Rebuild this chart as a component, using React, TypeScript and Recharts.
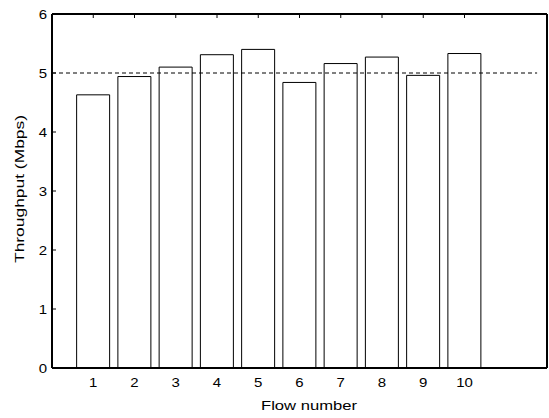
import { Bar, ComposedChart, ReferenceLine, XAxis, YAxis } from "recharts";

const FLOWS = [1, 2, 3, 4, 5, 6, 7, 8, 9, 10];
const THROUGHPUT = [4.63, 4.94, 5.1, 5.31, 5.4, 4.84, 5.16, 5.27, 4.96, 5.33];
const Y_TICKS = [0, 1, 2, 3, 4, 5, 6];
const TARGET = 5;

const data = FLOWS.map((f, i) => ({ flow: f, mbps: THROUGHPUT[i] }));

const FONT = "'Liberation Sans', Arial, sans-serif";

// MATLAB-ish ticks: pointing inward, labels slightly stretched
function BottomTick(p: any) {
  return (
    <text
      transform={`translate(${p.x},${p.y + 18.8}) scale(1.2,1)`}
      textAnchor="middle"
      fontSize={12.5}
      fontFamily={FONT}
      fill="#000"
    >
      {p.payload.value}
    </text>
  );
}

function LeftTick(p: any) {
  return (
    <g>
      <line x1={p.x} x2={p.x + 4} y1={p.y} y2={p.y} stroke="#000" />
      <text
        transform={`translate(${p.x - 5},${p.y + 4.5}) scale(1.2,1)`}
        textAnchor="end"
        fontSize={12.5}
        fontFamily={FONT}
        fill="#000"
      >
        {p.payload.value}
      </text>
    </g>
  );
}

function TopTick(p: any) {
  return <line x1={p.x} x2={p.x} y1={p.y} y2={p.y + 4} stroke="#000" />;
}

function RightTick(p: any) {
  return <line x1={p.x - 4} x2={p.x} y1={p.y} y2={p.y} stroke="#000" />;
}

export default function App() {
  return (
    <div style={{ position: "absolute", left: 0, top: 0, width: 549, height: 418, background: "#fff" }}>
      <ComposedChart width={549} height={418} data={data} margin={{ top: 13, right: 0, bottom: 0, left: 0 }}>
        <XAxis
          xAxisId="b"
          dataKey="flow"
          type="number"
          domain={[0, 12]}
          ticks={FLOWS}
          interval={0}
          height={50}
          tickSize={0}
          tickMargin={0}
          tickLine={false}
          tick={<BottomTick />}
          axisLine={{ stroke: "#000", strokeWidth: 2 }}
        />
        <XAxis
          xAxisId="t"
          dataKey="flow"
          type="number"
          orientation="top"
          domain={[0, 12]}
          ticks={FLOWS}
          interval={0}
          height={1}
          tickSize={0}
          tickMargin={0}
          tickLine={false}
          tick={<TopTick />}
          axisLine={{ stroke: "#000", strokeWidth: 2 }}
        />
        <YAxis
          yAxisId="l"
          type="number"
          domain={[0, 6]}
          ticks={Y_TICKS}
          interval={0}
          width={52}
          tickSize={0}
          tickMargin={0}
          tickLine={false}
          tick={<LeftTick />}
          axisLine={{ stroke: "#000", strokeWidth: 2 }}
        />
        <YAxis
          yAxisId="r"
          orientation="right"
          type="number"
          domain={[0, 6]}
          ticks={Y_TICKS}
          interval={0}
          width={2}
          tickSize={0}
          tickMargin={0}
          tickLine={false}
          tick={<RightTick />}
          axisLine={{ stroke: "#000", strokeWidth: 2 }}
        />
        <Bar
          xAxisId="b"
          yAxisId="l"
          dataKey="mbps"
          barSize={33}
          fill="#fff"
          stroke="#000"
          strokeWidth={1}
          isAnimationActive={false}
        />
        <ReferenceLine
          xAxisId="b"
          yAxisId="l"
          segment={[
            { x: 0, y: TARGET },
            { x: 11.76, y: TARGET },
          ]}
          stroke="#000"
          strokeDasharray="4 3"
        />
        <text
          transform="translate(309,410)"
          textAnchor="middle"
          fontSize={12.8}
          fontFamily={FONT}
          textLength={96}
          lengthAdjust="spacingAndGlyphs"
          fill="#000"
        >
          Flow number
        </text>
        <text
          transform="translate(24,189) rotate(-90)"
          textAnchor="middle"
          fontSize={12.8}
          fontFamily={FONT}
          textLength={148}
          lengthAdjust="spacingAndGlyphs"
          fill="#000"
        >
          Throughput (Mbps)
        </text>
      </ComposedChart>
    </div>
  );
}
